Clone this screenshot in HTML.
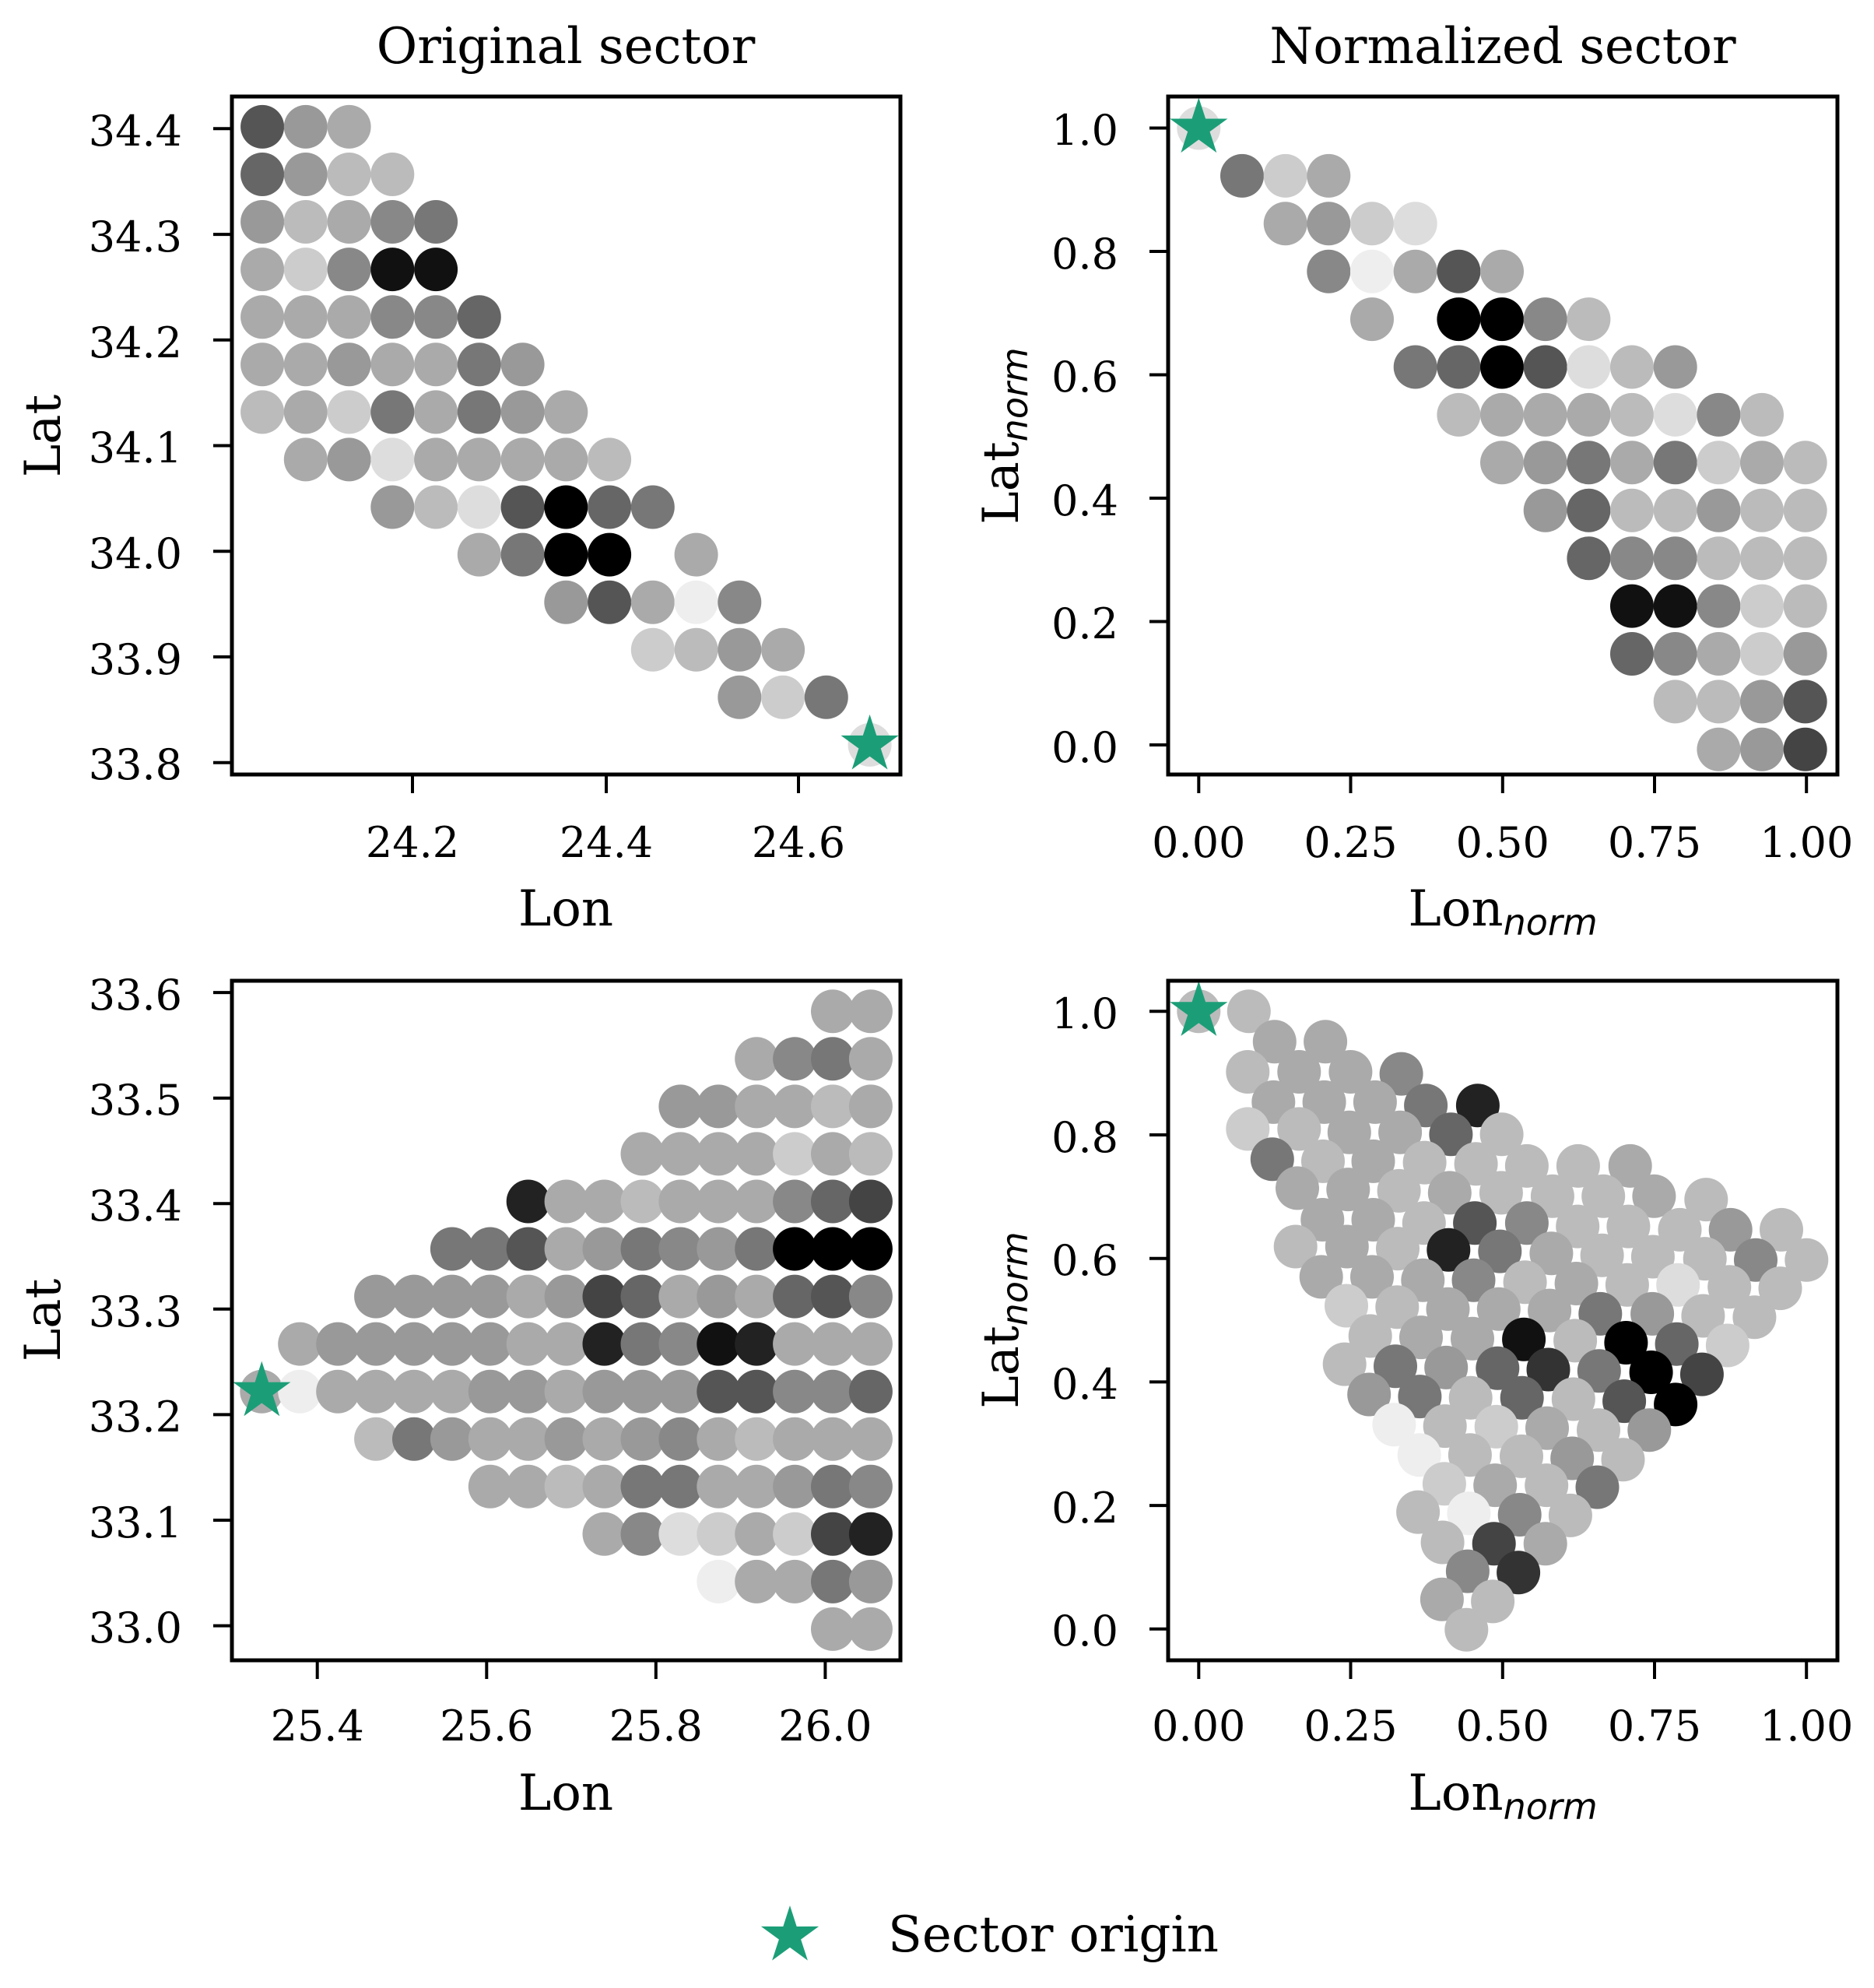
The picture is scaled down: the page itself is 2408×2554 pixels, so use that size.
<!DOCTYPE html>
<html><head><meta charset="utf-8"><style>
html,body{margin:0;padding:0;background:#fff;}
svg{display:block;}
text{font-family:"DejaVu Serif","Liberation Serif",serif;fill:#000;}
.tk{font-size:54px;}
.lb{font-size:64px;}
.sub{font-family:"DejaVu Sans","Liberation Sans",sans-serif;font-style:italic;font-size:46px;}
</style></head><body>
<svg id="s" width="2408" height="2554" viewBox="0 0 2408 2554" xmlns="http://www.w3.org/2000/svg">
<rect width="2408" height="2554" fill="#fff"/>
<g id="dots"></g>
<g fill="none" stroke="#000" stroke-width="5">
<rect x="298" y="124" width="859" height="871"/>
<rect x="1501" y="124" width="860" height="871"/>
<rect x="298" y="1260" width="859" height="873"/>
<rect x="1501" y="1260" width="860" height="873"/>
</g>
<g stroke="#000" stroke-width="4">
<line x1="274" x2="298" y1="165.3" y2="165.3"/><line x1="274" x2="298" y1="301.1" y2="301.1"/><line x1="274" x2="298" y1="436.8" y2="436.8"/><line x1="274" x2="298" y1="572.5" y2="572.5"/><line x1="274" x2="298" y1="708.2" y2="708.2"/><line x1="274" x2="298" y1="843.9" y2="843.9"/><line x1="274" x2="298" y1="979.7" y2="979.7"/>
<line y1="995" y2="1019" x1="530" x2="530"/><line y1="995" y2="1019" x1="779" x2="779"/><line y1="995" y2="1019" x1="1026" x2="1026"/>
<line x1="1477" x2="1501" y1="164.5" y2="164.5"/><line x1="1477" x2="1501" y1="323" y2="323"/><line x1="1477" x2="1501" y1="481.5" y2="481.5"/><line x1="1477" x2="1501" y1="640" y2="640"/><line x1="1477" x2="1501" y1="798.5" y2="798.5"/><line x1="1477" x2="1501" y1="957" y2="957"/>
<line y1="995" y2="1019" x1="1540.3" x2="1540.3"/><line y1="995" y2="1019" x1="1735.5" x2="1735.5"/><line y1="995" y2="1019" x1="1930.8" x2="1930.8"/><line y1="995" y2="1019" x1="2126" x2="2126"/><line y1="995" y2="1019" x1="2321.2" x2="2321.2"/>
<line x1="274" x2="298" y1="1275.1" y2="1275.1"/><line x1="274" x2="298" y1="1410.7" y2="1410.7"/><line x1="274" x2="298" y1="1546.2" y2="1546.2"/><line x1="274" x2="298" y1="1681.8" y2="1681.8"/><line x1="274" x2="298" y1="1817.4" y2="1817.4"/><line x1="274" x2="298" y1="1953" y2="1953"/><line x1="274" x2="298" y1="2088.6" y2="2088.6"/>
<line y1="2133" y2="2157" x1="407.7" x2="407.7"/><line y1="2133" y2="2157" x1="625.3" x2="625.3"/><line y1="2133" y2="2157" x1="842.8" x2="842.8"/><line y1="2133" y2="2157" x1="1060.4" x2="1060.4"/>
<line x1="1477" x2="1501" y1="1299.3" y2="1299.3"/><line x1="1477" x2="1501" y1="1458" y2="1458"/><line x1="1477" x2="1501" y1="1616.7" y2="1616.7"/><line x1="1477" x2="1501" y1="1775.4" y2="1775.4"/><line x1="1477" x2="1501" y1="1934.1" y2="1934.1"/><line x1="1477" x2="1501" y1="2092.8" y2="2092.8"/>
<line y1="2133" y2="2157" x1="1540.3" x2="1540.3"/><line y1="2133" y2="2157" x1="1735.5" x2="1735.5"/><line y1="2133" y2="2157" x1="1930.8" x2="1930.8"/><line y1="2133" y2="2157" x1="2126" x2="2126"/><line y1="2133" y2="2157" x1="2321.2" x2="2321.2"/>
</g>

<text class="lb" x="727" y="81" text-anchor="middle">Original sector</text>
<text class="lb" x="1931" y="81" text-anchor="middle">Normalized sector</text>

<g class="tk" text-anchor="end">
<text x="234" y="187">34.4</text><text x="234" y="323">34.3</text><text x="234" y="459">34.2</text><text x="234" y="594">34.1</text><text x="234" y="730">34.0</text><text x="234" y="866">33.9</text><text x="234" y="1001">33.8</text>
<text x="1437" y="186">1.0</text><text x="1437" y="345">0.8</text><text x="1437" y="503">0.6</text><text x="1437" y="662">0.4</text><text x="1437" y="820">0.2</text><text x="1437" y="979">0.0</text>
<text x="234" y="1297">33.6</text><text x="234" y="1432">33.5</text><text x="234" y="1568">33.4</text><text x="234" y="1704">33.3</text><text x="234" y="1839">33.2</text><text x="234" y="1975">33.1</text><text x="234" y="2110">33.0</text>
<text x="1437" y="1321">1.0</text><text x="1437" y="1480">0.8</text><text x="1437" y="1638">0.6</text><text x="1437" y="1797">0.4</text><text x="1437" y="1956">0.2</text><text x="1437" y="2114">0.0</text>
</g>
<g class="tk" text-anchor="middle">
<text x="530" y="1101">24.2</text><text x="779" y="1101">24.4</text><text x="1026" y="1101">24.6</text>
<text x="1540.3" y="1101">0.00</text><text x="1735.5" y="1101">0.25</text><text x="1930.8" y="1101">0.50</text><text x="2126" y="1101">0.75</text><text x="2321.2" y="1101">1.00</text>
<text x="407.7" y="2236">25.4</text><text x="625.3" y="2236">25.6</text><text x="842.8" y="2236">25.8</text><text x="1060.4" y="2236">26.0</text>
<text x="1540.3" y="2236">0.00</text><text x="1735.5" y="2236">0.25</text><text x="1930.8" y="2236">0.50</text><text x="2126" y="2236">0.75</text><text x="2321.2" y="2236">1.00</text>
</g>

<text class="lb" x="727" y="1189" text-anchor="middle">Lon</text>
<text class="lb" x="1931" y="1189" text-anchor="middle">Lon<tspan class="sub" dy="12">norm</tspan></text>
<text class="lb" x="727" y="2325" text-anchor="middle">Lon</text>
<text class="lb" x="1931" y="2325" text-anchor="middle">Lon<tspan class="sub" dy="12">norm</tspan></text>

<text class="lb" transform="translate(77,560) rotate(-90)" text-anchor="middle">Lat</text>
<text class="lb" transform="translate(1308,560) rotate(-90)" text-anchor="middle">Lat<tspan class="sub" dy="12">norm</tspan></text>
<text class="lb" transform="translate(77,1696) rotate(-90)" text-anchor="middle">Lat</text>
<text class="lb" transform="translate(1308,1696) rotate(-90)" text-anchor="middle">Lat<tspan class="sub" dy="12">norm</tspan></text>

<g id="legend"></g>
<text class="lb" x="1141" y="2507">Sector origin</text>
</svg>
<script>
var NS="http://www.w3.org/2000/svg";
var dots=document.getElementById("dots");
function col(ch){return "#"+ch+ch+ch+ch+ch+ch;}
function circ(x,y,c){var e=document.createElementNS(NS,"circle");e.setAttribute("cx",x.toFixed(1));e.setAttribute("cy",y.toFixed(1));e.setAttribute("r","28");e.setAttribute("fill",col(c));dots.appendChild(e);}
function star(x,y,R,parent){var r=R*0.381,p=[];for(var i=0;i<10;i++){var a=-Math.PI/2+i*Math.PI/5;var rr=i%2?r:R;p.push((x+rr*Math.cos(a)).toFixed(1)+","+(y+rr*Math.sin(a)).toFixed(1));}
var e=document.createElementNS(NS,"polygon");e.setAttribute("points",p.join(" "));e.setAttribute("fill","#1b9e77");(parent||dots).appendChild(e);}
function grid(rows,fx,fy){for(var r=0;r<rows.length;r++){var s=rows[r];for(var c=0;c<s.length;c++){if(s[c]!=".")circ(fx(c),fy(r),s[c]);}}}
grid(["59a","69bb","9ba87","ac811","aaa886","aa9aa79","bac7a79a",".a9daaaab","...9bd5067",".....a700.a",".......95ae8",".........cb9a","...........9c7","..............d"],
 function(c){return (439+72.6*c)/1.3023;},function(r){return (200+75*r)/1.2279;});
star((439+72.6*14)/1.3023,(200+75*13)/1.2279,39);
grid(["d",".7ca","..a9cd","...8ea5a","....a.008b",".....7605db9","......baaabd8b",".......a97a7cab","........96bb9bb",".........688bbb","..........118cb","..........68ac9","...........bb95","............a94"],
 function(c){return 1204+(438+72.5*c)/1.3023;},function(r){return (202+75.4*r)/1.2279;});
star(1204+438/1.3023,202/1.2279,39);
grid(["...............aa",".............a87a","...........99aaba","..........aaaacab",".......2aabaaa864",".....775a97897000","...9999a946a9a658",".a99999aa27812aaa","aeaaaa99a99955886","...b79aa9a98abaaa","......aaba77aa978",".........a8dcac42","............eaa79","...............aa"],
 function(c){return (438+63.7*c)/1.3023;},function(r){return 1200+(115+70.7*r)/1.1581;});
star(438/1.3023,1200+(115+70.7*8)/1.1581,39);
var br=[[438,115,'b'],[522,115,'b'],[565,160,'a'],[650,160,'a'],[520,205,'b'],[606,205,'a'],[692,205,'a'],[777,208,'8'],[563,250,'a'],[648,250,'a'],[733,250,'a'],[818,255,'7'],[905,255,'2'],[520,290,'c'],[606,290,'b'],[690,295,'a'],[775,295,'a'],[860,298,'6'],[945,298,'b'],[561,335,'7'],[646,338,'b'],[730,338,'a'],[816,340,'b'],[902,342,'b'],[987,345,'b'],[1073,345,'b'],[1160,345,'a'],[603,378,'a'],[688,380,'a'],[773,382,'b'],[858,385,'a'],[944,385,'b'],[1030,390,'b'],[1115,390,'b'],[1200,390,'a'],[1287,395,'b'],[645,425,'a'],[730,425,'a'],[815,430,'b'],[900,430,'5'],[987,430,'8'],[1072,435,'b'],[1157,435,'b'],[1243,440,'b'],[1328,440,'9'],[1413,440,'b'],[600,465,'b'],[686,465,'a'],[771,468,'b'],[856,470,'2'],[942,472,'7'],[1028,475,'a'],[1113,478,'b'],[1198,480,'b'],[1285,483,'b'],[1370,485,'8'],[1455,485,'b'],[643,510,'a'],[728,510,'a'],[813,515,'a'],[898,515,'8'],[984,518,'b'],[1070,520,'a'],[1155,522,'b'],[1240,522,'d'],[1326,525,'b'],[1411,527,'b'],[685,553,'c'],[770,555,'b'],[855,558,'a'],[940,558,'a'],[1025,560,'a'],[1110,565,'7'],[1197,565,'9'],[1282,568,'b'],[1368,570,'b'],[725,598,'b'],[810,600,'a'],[896,602,'a'],[982,603,'1'],[1068,605,'b'],[1153,608,'0'],[1238,610,'6'],[1323,612,'c'],[682,640,'b'],[767,643,'7'],[852,645,'9'],[938,646,'6'],[1023,648,'3'],[1108,650,'7'],[1195,652,'0'],[1280,655,'4'],[723,685,'9'],[808,688,'7'],[893,690,'b'],[979,690,'6'],[1065,692,'b'],[1150,695,'5'],[1236,700,'0'],[765,730,'e'],[850,732,'b'],[936,733,'c'],[1021,735,'a'],[1107,738,'b'],[1192,738,'9'],[807,775,'e'],[892,775,'b'],[978,777,'b'],[1063,780,'9'],[1148,782,'b'],[849,818,'c'],[934,820,'a'],[1020,820,'b'],[1105,823,'7'],[805,860,'b'],[890,862,'e'],[975,864,'8'],[1060,865,'b'],[846,905,'b'],[932,907,'4'],[1018,907,'a'],[888,948,'8'],[973,950,'3'],[845,990,'a'],[930,993,'b'],[886,1035,'b']];
br.forEach(function(d){circ(1204+d[0]/1.3023,1200+d[1]/1.1581,d[2]);});
star(1204+438/1.3023,1200+115/1.1581,39);
star(1015,2487,39,document.getElementById("legend"));
</script>
</body></html>
